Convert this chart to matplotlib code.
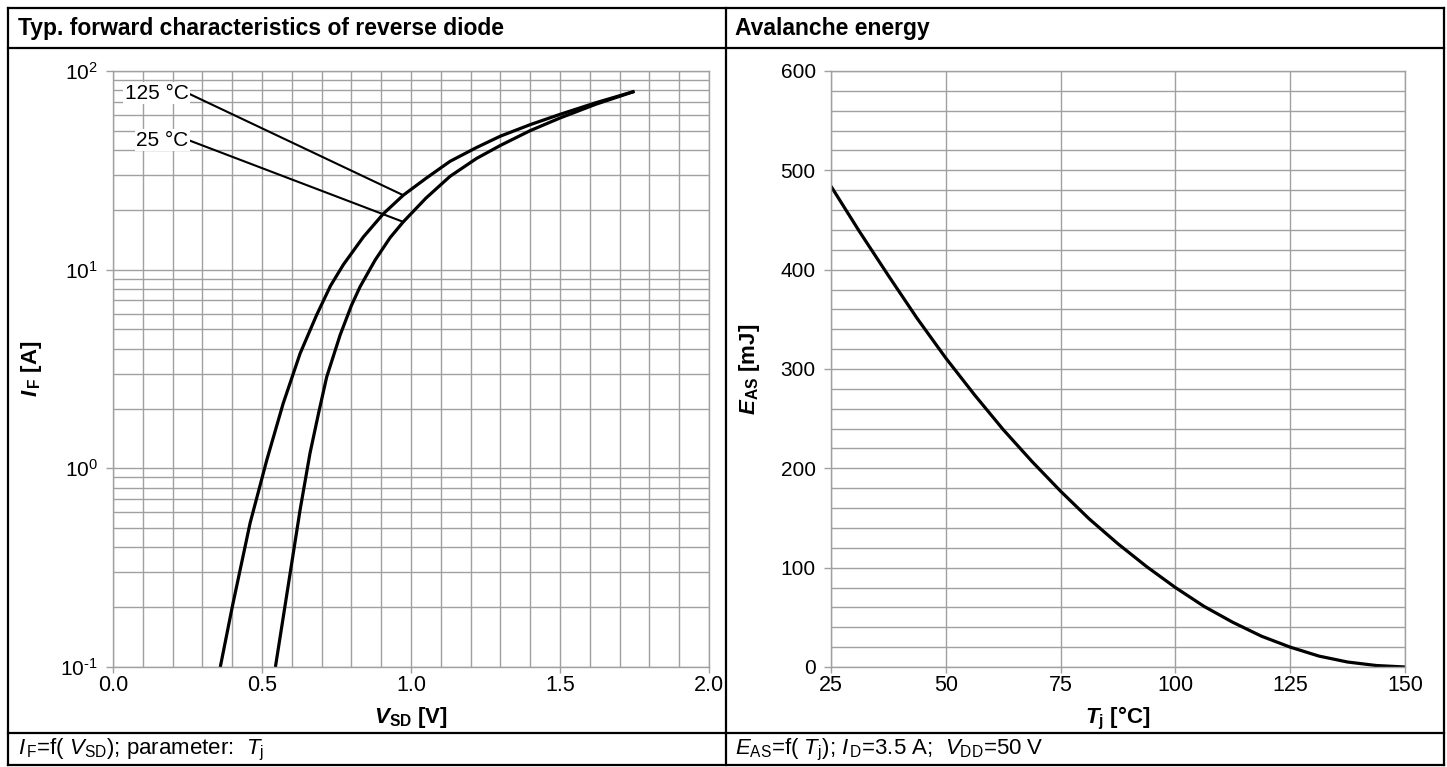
import numpy as np
import matplotlib
matplotlib.use("Agg")
import matplotlib.pyplot as plt
from matplotlib.lines import Line2D
from matplotlib.ticker import MultipleLocator, LogLocator, FuncFormatter, NullFormatter

plt.rcParams['font.family'] = ['Liberation Sans', 'DejaVu Sans']
plt.rcParams['mathtext.fontset'] = 'custom'
plt.rcParams['mathtext.rm'] = 'Liberation Sans'
plt.rcParams['mathtext.it'] = 'Liberation Sans:italic'
plt.rcParams['mathtext.bf'] = 'Liberation Sans:bold'
plt.rcParams['mathtext.bfit'] = 'Liberation Sans:italic:bold'
plt.rcParams['axes.unicode_minus'] = False

# diode forward characteristics, Tj = 125 C
vsd_125 = [0.36, 0.40, 0.46, 0.516, 0.571, 0.628, 0.683, 0.73, 0.773, 0.84, 0.907,
           0.974, 1.05, 1.131, 1.22, 1.3, 1.4, 1.5, 1.62, 1.75]
if_125 = [0.1, 0.2, 0.53, 1.1, 2.12, 3.79, 5.9, 8.3, 10.6, 14.6, 19.1,
          23.7, 28.8, 35.1, 41.2, 47.0, 53.7, 60.5, 69.2, 79]
# Tj = 25 C
vsd_25 = [0.545, 0.628, 0.661, 0.69, 0.717, 0.762, 0.8, 0.829, 0.88, 0.93, 0.974,
          1.05, 1.131, 1.22, 1.3, 1.4, 1.5, 1.62, 1.75]
if_25 = [0.1, 0.62, 1.19, 1.9, 2.88, 4.68, 6.6, 8.2, 11.2, 14.5, 17.4,
         22.9, 29.5, 36.3, 42.2, 50.1, 58.0, 68.0, 79]

# leader lines: label point -> point on the curve
lead_125 = ([0.253, 0.974], [77.1, 23.7])
lead_25 = ([0.253, 0.974], [44.9, 17.4])

# avalanche energy
tj = [25, 31.25, 37.5, 43.75, 50, 56.25, 62.5, 68.75, 75, 81.25, 87.5, 93.75,
      100, 106.25, 112.5, 118.75, 125, 131.25, 137.5, 143.75, 150]
eas = [484, 438, 394, 351, 311, 274, 239, 207, 177, 149, 124, 101,
       80, 61, 45, 31, 20, 11, 5, 1.5, 0]

W, H = 1447, 767
def fx(x):
    return x / W
def fy(y):
    return 1 - y / H

fig = plt.figure(figsize=(W / 100, H / 100), dpi=100)

# table frame
frame_lw = 1.6
for (x0, y0, x1, y1) in [(8, 8, 1444, 8), (8, 765, 1444, 765), (8, 8, 8, 765),
                         (1444, 8, 1444, 765), (8, 48, 1444, 48), (8, 733, 1444, 733),
                         (726, 8, 726, 765)]:
    fig.add_artist(Line2D([fx(x0), fx(x1)], [fy(y0), fy(y1)], color='black',
                          lw=frame_lw, transform=fig.transFigure))

fig.text(fx(18), fy(28), "Typ. forward characteristics of reverse diode",
         fontsize=16.5, fontweight='bold', va='center', ha='left')
fig.text(fx(735), fy(28), "Avalanche energy",
         fontsize=16.5, fontweight='bold', va='center', ha='left')

fig.text(fx(18), fy(750),
         r"$\mathit{I}_{\,\mathrm{F}}$=f( $\mathit{V}_{\mathrm{SD}}$); parameter:  $\mathit{T}_{\mathrm{j}}$",
         fontsize=16, va='center', ha='left')
fig.text(fx(735), fy(750),
         r"$\mathit{E}_{\mathrm{AS}}$=f( $\mathit{T}_{\mathrm{j}}$); $\mathit{I}_{\,\mathrm{D}}$=3.5 A;  $\mathit{V}_{\mathrm{DD}}$=50 V",
         fontsize=16, va='center', ha='left')

grid_c = '#a0a0a0'

def style(ax):
    for s in ax.spines.values():
        s.set_color(grid_c)
        s.set_linewidth(1.0)
    ax.grid(True, which='both', color=grid_c, lw=1.0)
    ax.set_axisbelow(True)
    ax.tick_params(which='major', axis='y', length=5, width=1, color=grid_c,
                   labelsize=15, pad=6, labelcolor='black')
    ax.tick_params(which='major', axis='x', length=4.5, width=1, color=grid_c,
                   labelsize=15.5, pad=1.5, labelcolor='black')
    ax.tick_params(which='minor', length=0)

def pow10(v, pos):
    e = int(round(np.log10(v)))
    s = str(e).replace('-', '\u2010')
    return r"$\mathdefault{10^{%s}}$" % s

# left: forward characteristics
ax1 = fig.add_axes([fx(113), fy(667), (709 - 113) / W, (667 - 71) / H])
ax1.set_yscale('log')
ax1.set_xlim(0, 2.0)
ax1.set_ylim(0.1, 100)
ax1.xaxis.set_major_locator(MultipleLocator(0.5))
ax1.xaxis.set_minor_locator(MultipleLocator(0.1))
ax1.xaxis.set_major_formatter(plt.FormatStrFormatter('%.1f'))
ax1.yaxis.set_major_locator(LogLocator(base=10))
ax1.yaxis.set_minor_locator(LogLocator(base=10, subs=np.arange(2, 10)))
ax1.yaxis.set_major_formatter(FuncFormatter(pow10))
ax1.yaxis.set_minor_formatter(NullFormatter())
style(ax1)
ax1.plot(vsd_125, if_125, color='black', lw=2.3, solid_capstyle='butt')
ax1.plot(vsd_25, if_25, color='black', lw=2.3, solid_capstyle='butt')
ax1.plot(*lead_125, color='black', lw=1.5)
ax1.plot(*lead_25, color='black', lw=1.5)
ax1.text(lead_125[0][0], lead_125[1][0], "125 °C", fontsize=15, ha='right', va='center',
         bbox=dict(facecolor='white', edgecolor='none', pad=1))
ax1.text(lead_25[0][0], lead_25[1][0], "25 °C", fontsize=15, ha='right', va='center',
         bbox=dict(facecolor='white', edgecolor='none', pad=1))

fig.text(fx(411), fy(718), r"$\mathbfit{V}_{\mathbf{SD}}$ [V]", fontsize=16,
         fontweight='bold', ha='center', va='center')
fig.text(fx(32), fy(369), r"$\mathbfit{I}_{\,\mathbf{F}}$ [A]", fontsize=16,
         fontweight='bold', ha='center', va='center', rotation=90)

# right: avalanche energy
ax2 = fig.add_axes([fx(831), fy(667), (1405 - 831) / W, (667 - 71) / H])
ax2.set_xlim(25, 150)
ax2.set_ylim(0, 600)
ax2.xaxis.set_major_locator(MultipleLocator(25))
ax2.yaxis.set_major_locator(MultipleLocator(100))
ax2.yaxis.set_minor_locator(MultipleLocator(20))
style(ax2)
ax2.plot(tj, eas, color='black', lw=2.3, solid_capstyle='butt')

fig.text(fx(1118), fy(718), r"$\mathbfit{T}_{\mathbf{j}}$ [°C]", fontsize=16,
         fontweight='bold', ha='center', va='center')
fig.text(fx(750), fy(369), r"$\mathbfit{E}_{\mathbf{AS}}$ [mJ]", fontsize=16,
         fontweight='bold', ha='center', va='center', rotation=90)

fig.savefig("out.png", dpi=100)
